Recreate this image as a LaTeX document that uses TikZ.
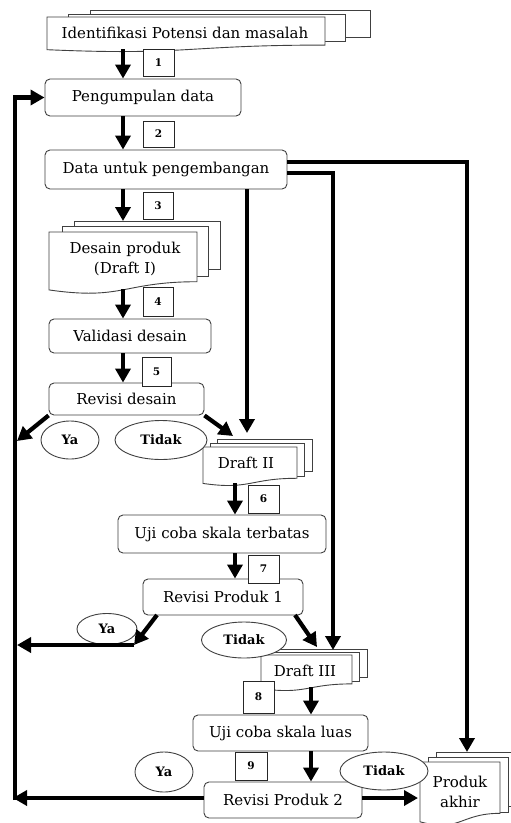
\documentclass[tikz,border=0pt]{standalone}
\usepackage{fontspec}
\setmainfont{DejaVu Serif}
\usetikzlibrary{arrows.meta,shapes.geometric,calc}
\tikzset{
 arr/.style={line width=4.2pt,line join=miter,-{Triangle[length=14pt,width=15pt]}},
 box/.style={draw=black!75,line width=0.9pt,rounded corners=5pt,fill=white,inner sep=0pt,font=\fontsize{15}{17}\selectfont},
 numbox/.style={draw=black!85,line width=0.9pt,fill=white,inner sep=0pt,font=\fontsize{10.5}{12}\selectfont\bfseries},
 oval/.style={ellipse,draw=black!75,line width=0.9pt,fill=white,inner sep=0pt,font=\fontsize{13}{15}\selectfont\bfseries},
 docline/.style={draw=black!75,line width=0.9pt,fill=white},
 doctext/.style={inner sep=0pt,font=\fontsize{15}{20}\selectfont,align=center},
}
\newcommand{\backdoc}[4]{\path[docline] (#1,#3) rectangle (#2,#4);}
\newcommand{\frontdoc}[4]{\path[docline] (#1,#3) -- (#2,#3) -- (#2,{#3+0.802*#4}) .. controls ({(#1+#2)/2},{#3+0.802*#4}) and ({(#1+#2)/2},{#3+1.107*#4}) .. (#1,{#3+0.934*#4}) -- cycle;}
\begin{document}
\begin{tikzpicture}[x=1pt,y=-1pt]
\useasboundingbox (0,0) rectangle (511,823);
\clip (0,0) rectangle (511,823);
\fill[white] (0,0) rectangle (511,823);

% documents
\backdoc{90}{370}{10}{37} \backdoc{68}{345}{14}{41} \frontdoc{47}{325}{17}{35}
\backdoc{74}{220}{221}{269} \backdoc{62}{208}{226}{276} \frontdoc{49}{197}{232}{62}
\backdoc{217}{312}{439}{471} \backdoc{210}{304}{443}{476} \frontdoc{203}{297}{447}{39}
\backdoc{272}{367}{649}{677} \backdoc{266}{359}{652}{681} \frontdoc{261}{352}{655}{36}
\backdoc{436}{516}{752}{806} \backdoc{428}{508}{757}{812} \frontdoc{420}{500}{762}{64}

\node[doctext] (idn) at (185,33) {Identifikasi Potensi dan masalah};
\node[doctext] (dsn) at (125,259) {Desain produk\\(Draft I)};
\node[doctext] (d2) at (246,463) {Draft II};
\node[doctext] (d3) at (305,671) {Draft III};
\node[doctext] (pa) at (460,792) {Produk\\akhir};

% boxes
\node[box,minimum width=196pt,minimum height=37pt] (pd) at (143,97.5) {Pengumpulan data};
\node[box,minimum width=242pt,minimum height=39pt] (dp) at (166,169.5) {Data untuk pengembangan};
\node[box,minimum width=162pt,minimum height=34pt] (vd) at (130,336) {Validasi desain};
\node[box,minimum width=155pt,minimum height=32pt] (rd) at (126.5,399) {Revisi desain};
\node[box,minimum width=208pt,minimum height=38pt] (uct) at (222,534) {Uji coba skala terbatas};
\node[box,minimum width=160pt,minimum height=36pt] (rp1) at (223,597) {Revisi Produk 1};
\node[box,minimum width=175pt,minimum height=36pt] (ucl) at (280.5,733) {Uji coba skala luas};
\node[box,minimum width=158pt,minimum height=36pt] (rp2) at (283,800) {Revisi Produk 2};

% number boxes
\node[numbox,minimum width=31pt,minimum height=27pt] (n1) at (158.5,62.5) {1};
\node[numbox,minimum width=31pt,minimum height=26pt] (n2) at (158.5,134) {2};
\node[numbox,minimum width=30pt,minimum height=27pt] (n3) at (158,205.5) {3};
\node[numbox,minimum width=30pt,minimum height=29pt] (n4) at (158,301.5) {4};
\node[numbox,minimum width=29pt,minimum height=29pt] (n5) at (156.5,371.5) {5};
\node[numbox,minimum width=31pt,minimum height=28pt] (n6) at (263.5,499) {6};
\node[numbox,minimum width=31pt,minimum height=28pt] (n7) at (263.5,569) {7};
\node[numbox,minimum width=31pt,minimum height=32pt] (n8) at (258.5,697) {8};
\node[numbox,minimum width=32pt,minimum height=28pt] (n9) at (251,766) {9};

% ovals
\node[oval,minimum width=58pt,minimum height=38pt] (ya1) at (70,440) {Ya};
\node[oval,minimum width=92pt,minimum height=39pt] (td1) at (161,440) {Tidak};
\node[oval,minimum width=60pt,minimum height=31pt] (ya2) at (107,629) {Ya};
\node[oval,minimum width=85pt,minimum height=36pt] (td2) at (244,640) {Tidak};
\node[oval,minimum width=58pt,minimum height=40pt] (ya3) at (164,772) {Ya};
\node[oval,minimum width=88pt,minimum height=38pt] (td3) at (384,771) {Tidak};

% helper coordinates
\coordinate (c1) at (123,0);
\coordinate (c2) at (235,0);
\coordinate (c3) at (311,0);
\coordinate (idnb) at (123,49);
\coordinate (dsnt) at (123,221);
\coordinate (dsnb) at (123,289);
\coordinate (d2t) at (233,436);
\coordinate (d2tv) at (247,433);
\coordinate (d2b) at (235,483);
\coordinate (d3t) at (317,647);
\coordinate (d3tv) at (333,650);
\coordinate (d3b) at (311,687);
\coordinate (pat) at (467,752);
\coordinate (pal) at (418,798);
\coordinate (L1) at (17,441);
\coordinate (L2a) at (134,645);
\coordinate (L2) at (17,645);
\coordinate (L3) at (13,798);
\coordinate (loopb) at (15,800);

% connectors
\draw[arr] (idnb) -- (c1 |- pd.north);
\draw[arr] (c1 |- pd.south) -- (c1 |- dp.north);
\draw[arr] (c1 |- dp.south) -- (dsnt);
\draw[arr] (dsnb) -- (c1 |- vd.north);
\draw[arr] (c1 |- vd.south) -- (c1 |- rd.north);
\draw[arr] (rd.south west) -- (L1);
\draw[arr] (rd.south east) -- (d2t);
\draw[arr] (d2tv |- dp.south) -- (d2tv);
\draw[arr] (d2b) -- (c2 |- uct.north);
\draw[arr] (c2 |- uct.south) -- (c2 |- rp1.north);
\draw[arr] (157,615) -- (L2a);
\draw[arr] (L2a) -- (L2);
\draw[arr] (295,615) -- (d3t);
\draw[arr] (dp.east |- 0,173) -- (333,173) -- (d3tv);
\draw[arr] (dp.east |- 0,162) -- (467,162) -- (pat);
\draw[arr] (d3b) -- (c3 |- ucl.north);
\draw[arr] (c3 |- ucl.south) -- (c3 |- rp2.north);
\draw[arr] (rp2.west |- 0,798) -- (L3);
\draw[arr] (rp2.east |- 0,798) -- (pal);
\draw[arr] (loopb) -- (15,97.5) -- (pd.west);
\end{tikzpicture}
\end{document}
